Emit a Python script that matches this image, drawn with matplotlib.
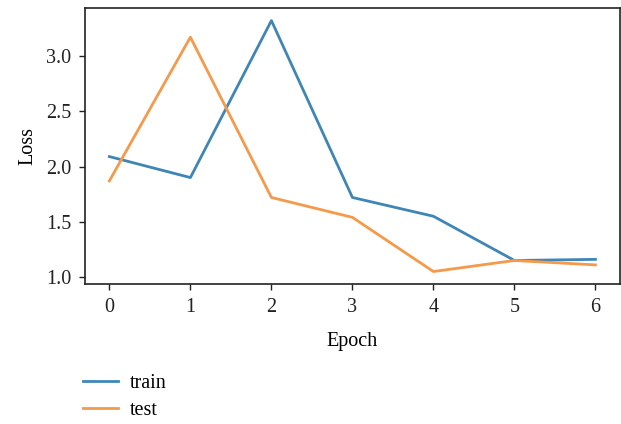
import matplotlib
matplotlib.use("Agg")
import matplotlib.pyplot as plt

epochs = [0, 1, 2, 3, 4, 5, 6]
train_loss = [2.09, 1.90, 3.32, 1.72, 1.55, 1.15, 1.16]
test_loss = [1.87, 3.17, 1.72, 1.54, 1.05, 1.15, 1.11]

plt.rcParams["font.family"] = ["Liberation Serif", "DejaVu Serif"]
plt.rcParams["font.size"] = 14.5

fig = plt.figure(figsize=(6.21, 4.24), dpi=100)
ax = fig.add_axes([0.137, 0.33, 0.861, 0.651])

ax.plot(epochs, train_loss, color="#3f86b5", linewidth=2.0, label="train")
ax.plot(epochs, test_loss, color="#f5994a", linewidth=2.0, label="test")

ax.set_xlabel("Epoch", labelpad=11)
ax.set_ylabel("Loss", labelpad=6)
ax.set_yticks([1.0, 1.5, 2.0, 2.5, 3.0])
for s in ax.spines.values():
    s.set_color("#222222")
    s.set_linewidth(1.2)
ax.tick_params(colors="#222222", length=4, width=1, pad=6, labelcolor="#222222")

fig.legend(loc="upper left", bbox_to_anchor=(0.133, 0.118), frameon=False,
           handlelength=1.75, handletextpad=0.6, labelspacing=0.4,
           borderaxespad=0, borderpad=0)

fig.savefig("out.png", dpi=100)
